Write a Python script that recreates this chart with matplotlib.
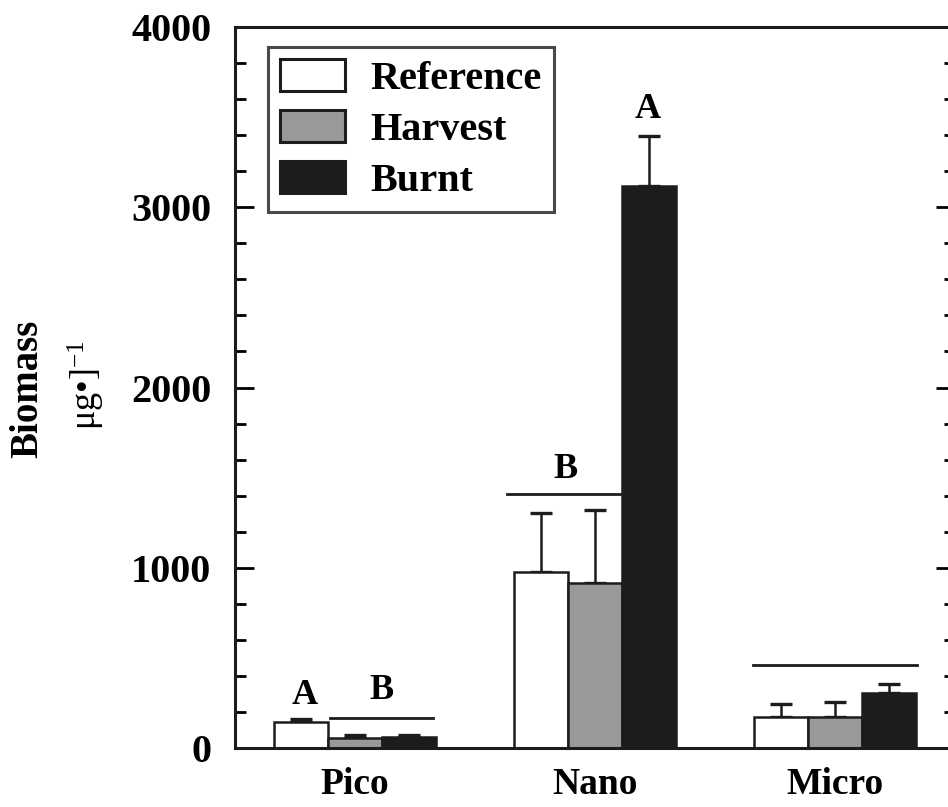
import matplotlib
matplotlib.use("Agg")
import matplotlib.pyplot as plt
import numpy as np
from matplotlib.ticker import MultipleLocator

plt.rcParams['font.family'] = ['Liberation Serif', 'DejaVu Serif']
plt.rcParams['mathtext.fontset'] = 'custom'
plt.rcParams['mathtext.rm'] = 'Liberation Serif'
plt.rcParams['mathtext.it'] = 'Liberation Serif:italic'
plt.rcParams['mathtext.bf'] = 'Liberation Serif:bold'

categories = ["Pico", "Nano", "Micro"]
series = ["Reference", "Harvest", "Burnt"]
reference = [145, 975, 172]
harvest = [55, 915, 170]
burnt = [60, 3120, 306]
reference_err = [15, 330, 72]
harvest_err = [17, 405, 85]
burnt_err = [12, 275, 50]
colors = ["white", "#999999", "#1c1c1c"]

# significance annotations: (x_start, x_end, y) lines and letters (x, y, text)
sig_lines = [(-0.104, 0.325, 168), (0.633, 1.104, 1411), (1.658, 2.342, 461)]
sig_letters = [(-0.21, 290, "A"), (0.11, 318, "B"), (0.879, 1545, "B"), (1.221, 3540, "A")]

W, H = 948, 807
fig = plt.figure(figsize=(W / 100, H / 100), dpi=100)
left, right, bottom, top = 235, 955, 748, 27
ax = fig.add_axes([left / W, 1 - bottom / H, (right - left) / W, (bottom - top) / H])

x = np.arange(len(categories))
bw = 0.225
vals = [reference, harvest, burnt]
errs = [reference_err, harvest_err, burnt_err]
for i, (v, e, c, name) in enumerate(zip(vals, errs, colors, series)):
    pos = x + (i - 1) * bw
    ax.bar(pos, v, width=bw, color=c, edgecolor="#1c1c1c", linewidth=1.8, label=name, zorder=2)
    ax.errorbar(pos, v, yerr=[np.zeros(len(v)), e], fmt="none", ecolor="#1c1c1c",
                elinewidth=1.8, capsize=8, capthick=2.4, zorder=1)

for x0, x1, y in sig_lines:
    ax.plot([x0, x1], [y, y], color="#1c1c1c", lw=2.0)
for xx, yy, t in sig_letters:
    ax.text(xx, yy, t, ha="center", va="center", fontsize=26, fontweight="bold")

ax.set_xlim(-0.5, 2.5)
ax.set_ylim(0, 4000)
ax.set_xticks(x)
ax.set_xticklabels(categories, fontsize=27, fontweight="bold")
ax.tick_params(axis="x", length=0, pad=14)
ax.yaxis.set_major_locator(MultipleLocator(1000))
ax.yaxis.set_minor_locator(MultipleLocator(200))
ax.tick_params(axis="y", which="major", direction="in", length=14, width=2.0,
               labelsize=29, pad=17, right=True)
ax.tick_params(axis="y", which="minor", direction="in", length=8, width=2.0, right=True)
for lab in ax.get_yticklabels():
    lab.set_fontweight("bold")
for s in ax.spines.values():
    s.set_linewidth(2.2)
    s.set_color("#1c1c1c")

leg = ax.legend(loc="upper left", bbox_to_anchor=((268 - left) / (right - left), 1 - (47 - top) / (bottom - top)),
                prop={"size": 29, "weight": "bold"}, frameon=True, fancybox=False,
                handlelength=1.6, handleheight=0.85, handletextpad=0.65, labelspacing=0.3,
                borderpad=0.3, borderaxespad=0)
leg.get_frame().set_edgecolor("#1c1c1c")
leg.get_frame().set_linewidth(2.2)
for p in leg.get_patches():
    p.set_linewidth(2.2)

fig.text(28 / W, 1 - 389 / H, "Biomass", rotation=90, ha="center", va="center",
         fontsize=28, fontweight="bold")
fig.text(86 / W, 1 - 385 / H, "μg•]$^{-1}$", rotation=90, ha="center", va="center",
         fontsize=26)

fig.savefig("out.png", dpi=100)
